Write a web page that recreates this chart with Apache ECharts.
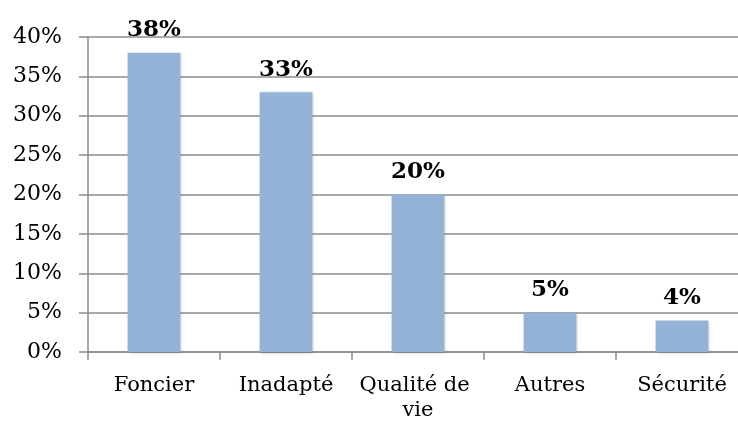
<!DOCTYPE html>
<html>
<head>
<meta charset="utf-8">
<script src="https://cdn.jsdelivr.net/npm/echarts@6/dist/echarts.min.js"></script>
<style>
  html, body { margin: 0; padding: 0; background: #fff; }
  #chart { width: 738px; height: 426px; }
</style>
</head>
<body>
<div id="chart"></div>
<script>
// Share of responses by reason
const categories = ['Foncier', 'Inadapté', 'Qualité de vie', 'Autres', 'Sécurité'];
const shares = [38, 33, 20, 5, 4];
const yTicks = [0, 5, 10, 15, 20, 25, 30, 35, 40];

const serif = '"DejaVu Serif", "Liberation Serif", serif';
const gridGray = '#8c8c8c';

const chart = echarts.init(document.getElementById('chart'), null, { renderer: 'canvas' });
chart.setOption({
  animation: false,
  backgroundColor: '#ffffff',
  // plot area runs slightly past the right edge of the canvas
  grid: { left: 88, width: 660, top: 37, bottom: 74, containLabel: false, outerBoundsMode: 'none' },
  xAxis: {
    type: 'category',
    data: categories,
    axisLine: { show: true, lineStyle: { color: gridGray, width: 1.5 } },
    axisTick: { show: true, length: 8, alignWithLabel: false, lineStyle: { color: gridGray, width: 1.5 } },
    axisLabel: {
      margin: 21,
      fontFamily: serif,
      fontSize: 21,
      color: '#000',
      lineHeight: 25,
      width: 128,
      overflow: 'break',
      interval: 0
    },
    splitLine: { show: false }
  },
  yAxis: {
    type: 'value',
    min: yTicks[0],
    max: yTicks[yTicks.length - 1],
    interval: 5,
    axisLine: { show: true, lineStyle: { color: gridGray, width: 1.5 } },
    axisTick: { show: true, length: 9, lineStyle: { color: gridGray, width: 1.5 } },
    axisLabel: {
      margin: 26,
      fontFamily: serif,
      fontSize: 22,
      color: '#000',
      formatter: v => v + '%'
    },
    splitLine: { show: true, lineStyle: { color: gridGray, width: 1.5 } }
  },
  series: [{
    type: 'bar',
    data: shares,
    barWidth: '40%',
    itemStyle: {
      color: '#95b3d7',
      shadowColor: 'rgba(0,0,0,0.25)',
      shadowBlur: 3,
      shadowOffsetX: 1,
      shadowOffsetY: 1
    },
    label: {
      show: true,
      position: 'top',
      distance: 11,
      fontFamily: serif,
      fontWeight: 'bold',
      fontSize: 23,
      color: '#000',
      formatter: p => p.value + '%'
    }
  }]
});
</script>
</body>
</html>
